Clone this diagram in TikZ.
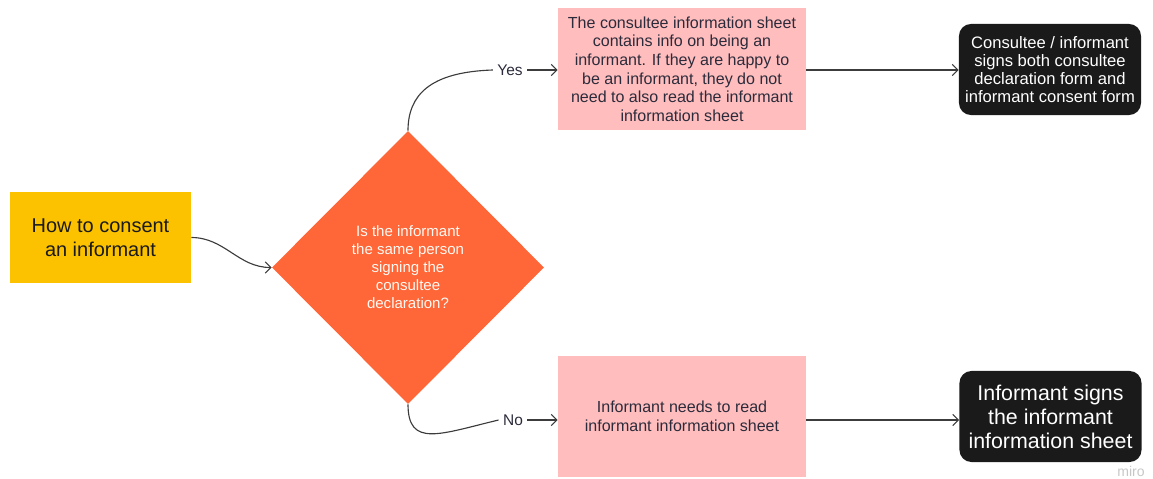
\documentclass[tikz,border=0pt]{standalone}
\usepackage{fontspec}
\setmainfont{Liberation Sans}
\usetikzlibrary{shapes.geometric,arrows.meta}

\definecolor{startyellow}{HTML}{FCC200}
\definecolor{askorange}{HTML}{FF6638}
\definecolor{notepink}{HTML}{FFBDBD}
\definecolor{endblack}{HTML}{1A1A1A}
\definecolor{linegray}{HTML}{3C3C3C}
\definecolor{inktext}{HTML}{2B2B3B}

\begin{document}
\begin{tikzpicture}[x=0.025cm,y=-0.025cm,>={Straight Barb[length=4pt,width=8pt]},
    startbox/.style={fill=startyellow,minimum width=4.525cm,minimum height=2.275cm,align=center,
      text=endblack,font=\fontsize{14.2}{17}\selectfont},
    askbox/.style={diamond,fill=askorange,minimum width=6.8cm,minimum height=6.825cm,inner sep=0pt,
      align=center,text=white!95!orange,font=\fontsize{10.7}{12.8}\selectfont},
    notebox/.style={fill=notepink,minimum width=6.2cm,minimum height=3.05cm,align=center,
      text=inktext,font=\fontsize{11.4}{13.2}\selectfont},
    endbox/.style={fill=endblack,rounded corners=0.3cm,minimum width=4.55cm,minimum height=2.275cm,
      align=center,text=white},
    flow/.style={draw=linegray,line width=0.8pt},
    choice/.style={text=inktext,inner sep=3pt,font=\fontsize{11}{13}\selectfont}]
  \useasboundingbox (0,0) rectangle (1153,479);

  % boxes
  \node[startbox] (start) at (100.5,237.5) {How to consent\\an informant};
  \node[askbox] (ask) at (408,267.5) {Is the informant\\the same person\\signing the\\consultee\\declaration?};
  \node[notebox] (info) at (682,69) {The consultee information sheet\\contains info on being an\\informant. If they are happy to\\be an informant, they do not\\need to also read the informant\\information sheet};
  \node[notebox,minimum height=3.025cm] (read) at (682,416.5) {Informant needs to read\\informant information sheet};
  \node[endbox,font=\fontsize{11.8}{12.8}\selectfont] (both) at (1050,69.5) {Consultee / informant\\signs both consultee\\declaration form and\\informant consent form};
  \node[endbox,font=\fontsize{15.2}{17}\selectfont] (sign) at (1050.5,416.5) {Informant signs\\the informant\\information sheet};

  % answer labels
  \node[choice] (yes) at (510,70) {Yes};
  \node[choice] (no) at (513,420) {No};

  % connectors
  \draw[flow,->] (start.east) to[out=0,in=180] (ask.west);
  \draw[flow] (ask.north) .. controls (408,95) and (430,72) .. (yes.west);
  \draw[flow,->] (yes.east) -- (info.west |- yes.east);
  \draw[flow] (ask.south) .. controls (408,448) and (440,434) .. (no.west);
  \draw[flow,->] (no.east) -- (read.west |- no.east);
  \draw[flow,->] (info.east |- yes.east) -- (both.west |- yes.east);
  \draw[flow,->] (read.east |- no.east) -- (sign.west |- no.east);

  \node[text=black!22,font=\fontsize{10}{12}\selectfont] (miro) at (1131,471) {miro};
\end{tikzpicture}
\end{document}
